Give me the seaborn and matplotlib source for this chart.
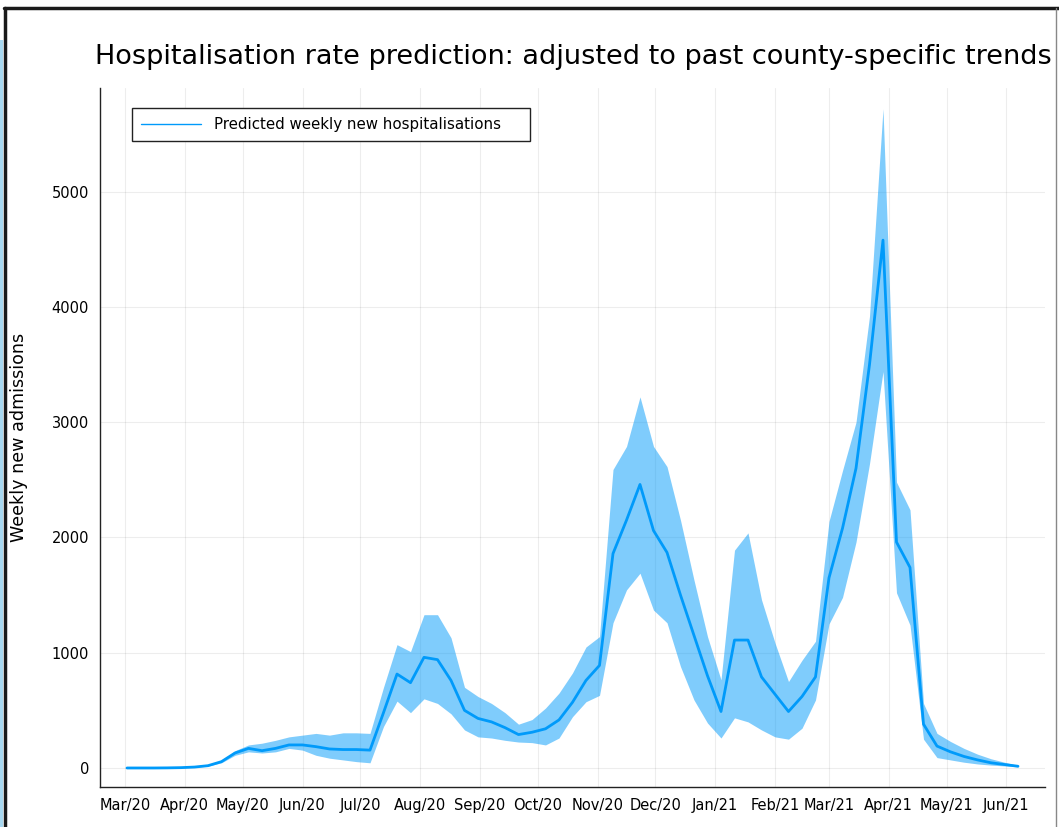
import pandas as pd
import matplotlib
matplotlib.use("Agg")
import matplotlib.pyplot as plt
import matplotlib.dates as mdates
import seaborn as sns
from matplotlib.lines import Line2D
from matplotlib.patches import Rectangle

# weekly predictions, starting Monday 2 March 2020
start_date = "2020-03-02"
predicted = [0, 0, 0, 1, 3, 8, 20, 55, 130, 170,
             150, 170, 200, 200, 185, 165, 160, 160, 155, 480,
             815, 740, 960, 940, 760, 500, 430, 400, 350, 290,
             310, 340, 417, 570, 760, 890, 1860, 2150, 2460, 2060,
             1870, 1500, 1150, 800, 490, 1110, 1110, 790, 640, 490,
             620, 790, 1650, 2080, 2600, 3500, 4580, 1960, 1740, 380,
             190, 140, 100, 70, 45, 30, 15]
lower = [0, 0, 0, 0, 2, 6, 16, 45, 110, 140,
         130, 140, 170, 155, 110, 85, 70, 55, 45, 360,
         580, 480, 600, 560, 470, 330, 270, 260, 240, 225,
         220, 200, 260, 445, 575, 630, 1260, 1545, 1690, 1370,
         1260, 880, 590, 390, 260, 435, 400, 330, 270, 250,
         345, 590, 1250, 1480, 1960, 2640, 3440, 1520, 1240, 250,
         90, 70, 50, 35, 25, 18, 10]
upper = [0, 0, 0, 2, 4, 10, 24, 65, 150, 200,
         215, 240, 270, 285, 300, 285, 305, 305, 300, 700,
         1070, 1010, 1330, 1330, 1130, 700, 620, 560, 480, 380,
         420, 520, 650, 825, 1050, 1140, 2590, 2790, 3220, 2790,
         2615, 2150, 1630, 1140, 765, 1890, 2040, 1460, 1085, 750,
         935, 1100, 2140, 2580, 3000, 3920, 5720, 2480, 2240, 560,
         300, 230, 170, 120, 80, 50, 22]
month_ticks = pd.date_range("2020-03-01", "2021-06-01", freq="MS")
y_ticks = [0, 1000, 2000, 3000, 4000, 5000]

df = pd.DataFrame({
    "date": pd.date_range(start_date, periods=len(predicted), freq="7D"),
    "predicted": predicted,
    "lower": lower,
    "upper": upper,
})

sns.set_theme(style="white")
plt.rcParams["font.family"] = ["DejaVu Sans"]

blue = "#009AFA"
W, H = 1059, 827
fig = plt.figure(figsize=(W / 100, H / 100), dpi=100)
ax = fig.add_axes([100 / W, 1 - 787 / H, 945 / W, 699 / H])

ax.fill_between(df["date"], df["lower"], df["upper"], color=blue, alpha=0.5, linewidth=0)
sns.lineplot(data=df, x="date", y="predicted", color=blue, linewidth=2, ax=ax, legend=False)

ax.set_xlim(pd.Timestamp("2020-02-17"), pd.Timestamp("2021-06-21"))
ax.set_ylim(-165, 5900)
ax.set_xticks(month_ticks)
ax.xaxis.set_major_formatter(mdates.DateFormatter("%b/%y"))
ax.set_yticks(y_ticks)

ax.grid(True, color="black", alpha=0.07, linewidth=0.8)
for s in ["top", "right"]:
    ax.spines[s].set_visible(False)
for s in ["left", "bottom"]:
    ax.spines[s].set_color("#222222")
    ax.spines[s].set_linewidth(1.0)
ax.tick_params(direction="in", length=6, width=1, color="#222222",
               labelsize=10.5, labelcolor="black", pad=8)

ax.set_xlabel("")
ax.set_ylabel("Weekly new admissions", fontsize=12.6, labelpad=17, color="black")
fig.text(573 / W, 1 - 57 / H,
         "Hospitalisation rate prediction: adjusted to past county-specific trends",
         ha="center", va="center", fontsize=19.5, color="black")

handle = Line2D([], [], color=blue, linewidth=1)
leg = ax.legend([handle], ["Predicted weekly new hospitalisations"],
                loc="upper left", bbox_to_anchor=(32 / 945, 0.93, 398 / 945, 0.041),
                mode="expand", borderaxespad=0, fontsize=10.8, fancybox=False,
                handlelength=4.0, handletextpad=0.9, borderpad=0.6, framealpha=1)
leg.get_frame().set_edgecolor("#222222")
leg.get_frame().set_linewidth(1.0)
for t in leg.get_texts():
    t.set_color("black")

# screenshot frame around the plot
fig.add_artist(Rectangle((0, 0), 3 / W, 1 - 40 / H, transform=fig.transFigure,
                         color="#A8D8F0", linewidth=0))
fig.add_artist(Line2D([5 / W, 5 / W], [0, 1 - 8 / H], transform=fig.transFigure,
                      color="#1a1a1a", linewidth=2.5))
fig.add_artist(Line2D([4 / W, 1], [1 - 8 / H, 1 - 8 / H], transform=fig.transFigure,
                      color="#1a1a1a", linewidth=2.5))
fig.add_artist(Line2D([1056 / W, 1056 / W], [0, 1 - 8 / H], transform=fig.transFigure,
                      color="#888888", linewidth=1))

fig.savefig("out.png", dpi=100)
